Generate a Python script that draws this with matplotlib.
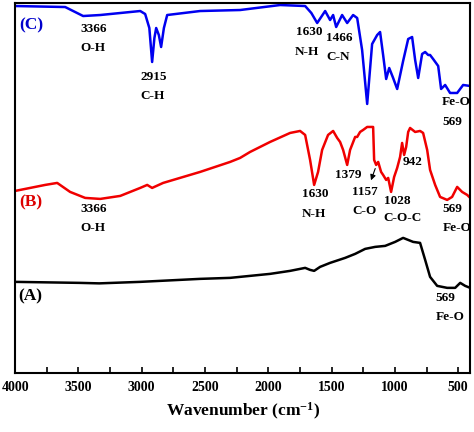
import numpy as np
import matplotlib
matplotlib.use('Agg')
import matplotlib.pyplot as plt
from matplotlib.ticker import MultipleLocator

plt.rcParams['font.family'] = 'Liberation Serif'
plt.rcParams['font.weight'] = 'bold'
plt.rcParams['mathtext.fontset'] = 'custom'
plt.rcParams['mathtext.rm'] = 'Liberation Serif:bold'
plt.rcParams['mathtext.it'] = 'Liberation Serif:bold'
plt.rcParams['mathtext.bf'] = 'Liberation Serif:bold'

# (C) blue spectrum, wavenumber / transmittance (a.u.)
wn_c = [4000, 3605, 3463, 3328, 3091, 3012, 2973, 2940, 2918, 2900, 2886, 2865, 2847, 2825, 2799,
        2539, 2223, 1907, 1709, 1660, 1614, 1551, 1512, 1488, 1464, 1417, 1377, 1330, 1298,
        1259, 1219, 1180, 1140, 1117, 1093, 1069, 1045, 1014, 982, 935, 895, 864, 840, 816,
        785, 761, 737, 722, 698, 658, 635, 603, 564, 508, 461, 405]
t_c = [367, 366, 357, 358, 361, 362, 359, 345, 311, 335, 345, 338, 326, 345, 358,
       362, 363, 368, 367, 360, 350, 362, 353, 358, 346, 358, 350, 358, 355,
       323, 269, 329, 338, 341, 318, 294, 305, 295, 284, 312, 334, 336, 313, 295,
       319, 321, 318, 318, 314, 307, 284, 288, 280, 280, 288, 287]

# (B) red spectrum
wn_b = [4000, 3763, 3668, 3566, 3447, 3328, 3170, 3012, 2957, 2918, 2831, 2539, 2302, 2223,
        2144, 1986, 1828, 1749, 1709, 1670, 1638, 1607, 1575, 1528, 1488, 1456, 1433, 1409,
        1377, 1354, 1314, 1298, 1275, 1251, 1219, 1172, 1164, 1148, 1132, 1109, 1093, 1069,
        1053, 1030, 1006, 982, 959, 943, 927, 911, 895, 880, 840, 801, 777, 745, 722, 682,
        643, 587, 548, 508, 469, 429, 405]
t_b = [182, 188, 190, 181, 175, 174, 177, 185, 188, 185, 190, 201, 211, 215,
       221, 231, 240, 242, 238, 213, 188, 201, 223, 238, 242, 235, 231, 223,
       208, 223, 236, 236, 241, 243, 246, 246, 213, 208, 211, 201, 198, 193,
       195, 181, 196, 205, 216, 230, 218, 226, 241, 245, 241, 242, 240, 223, 203, 188,
       176, 173, 176, 186, 181, 178, 175]

# (A) black spectrum
wn_a = [4000, 3494, 3336, 3012, 2539, 2302, 1986, 1828, 1709, 1670, 1638, 1591, 1512, 1393,
        1314, 1235, 1156, 1077, 998, 935, 856, 801, 761, 722, 666, 587, 524, 484, 445, 405]
t_a = [91, 90, 89.5, 91, 94, 95, 99, 102, 105, 103, 102, 106, 110, 115,
       119, 124, 126, 127, 131, 135, 131, 130, 113, 96, 87, 85, 85, 90, 87, 85]

fig = plt.figure(figsize=(4.74, 4.32), dpi=100)
ax = fig.add_axes([0.032, 0.137, 0.96, 0.856])

ax.plot(wn_c, t_c, color='#0000f0', lw=1.8)
ax.plot(wn_b, t_b, color='#f00000', lw=1.8)
ax.plot(wn_a, t_a, color='black', lw=1.8)

ax.text(3874, 348, '(C)', color='#0000cc', fontsize=12.5, ha='center', va='center')
ax.text(3874, 171, '(B)', color='#dd0000', fontsize=12.5, ha='center', va='center')
ax.text(3882, 76, '(A)', color='black', fontsize=12.5, ha='center', va='center')

# peak labels (x, y, text)
labels = [
    (3376, 344, '3366'), (3384, 325, 'O-H'),
    (2902, 296, '2915'), (2918, 277, 'C-H'),
    (1677, 341, '1630'), (1693, 321, 'N-H'),
    (1440, 335, '1466'), (1448, 316, 'C-N'),
    (516, 271, 'Fe-O'), (548, 251, '569'),
    (3376, 164, '3366'), (3384, 145, 'O-H'),
    (1630, 179, '1630'), (1638, 159, 'N-H'),
    (1369, 198, '1379'),
    (1235, 181, '1157'), (1243, 162, 'C-O'),
    (982, 172, '1028'), (943, 155, 'C-O-C'),
    (864, 211, '942'),
    (548, 164, '569'), (508, 145, 'Fe-O'),
    (603, 75, '569'), (563, 56, 'Fe-O'),
]
for x, y, s in labels:
    ax.text(x, y, s, fontsize=9.5, ha='center', va='center')

ax.annotate('', xy=(1196, 190), xytext=(1148, 207),
            arrowprops=dict(arrowstyle='-|>', color='black', lw=0.8, mutation_scale=8))

ax.set_xlim(4000, 405)
ax.set_ylim(0, 370)
ax.set_yticks([])
ax.xaxis.set_major_locator(MultipleLocator(500))
ax.xaxis.set_minor_locator(MultipleLocator(250))
ax.tick_params(axis='x', which='both', direction='in', length=4, width=1.2, labelsize=10, pad=6)
for lab in ax.get_xticklabels():
    lab.set_fontweight('bold')
for sp in ax.spines.values():
    sp.set_linewidth(1.5)
ax.set_xlabel('Wavenumber (cm$^{-1}$)', fontsize=12.5, fontweight='bold', labelpad=5)

fig.savefig('out.png', dpi=100)
